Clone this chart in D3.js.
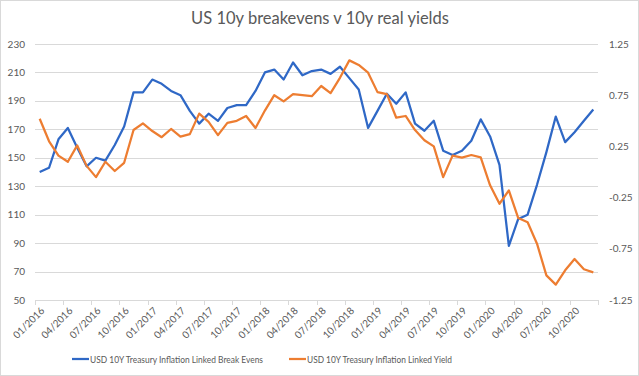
<!DOCTYPE html>
<html>
<head>
<meta charset="utf-8">
<script src="https://cdn.jsdelivr.net/npm/d3@7"></script>
<style>
  body { margin: 0; background: #fff; }
  text { font-family: Lato, "Open Sans", sans-serif; fill: #595959; }
</style>
</head>
<body>
<div id="chart"></div>
<script>
// Months, Jan 2016 .. Dec 2020
const months = [];
for (let yr = 2016; yr <= 2020; yr++) {
    for (let m = 1; m <= 12; m++) months.push(String(m).padStart(2, "0") + "/" + yr);
}

// USD 10Y breakevens (bp), left axis
const breakEvens = [
    140, 143, 163, 171, 157, 144, 150, 148, 159, 172, 196, 196,
    205, 202, 197, 194, 183, 174, 181, 176, 185, 187, 187, 197,
    210, 212, 205, 217, 208, 211, 212, 209, 214, 206, 198, 171,
    183, 195, 188, 196, 174, 169, 176, 155, 152, 155, 162, 177,
    165, 145, 88, 107, 110, 131, 154, 179, 161, 168, 176, 184
];

// USD 10Y real yield (%), right axis
const realYield = [
    0.52, 0.30, 0.16, 0.10, 0.26, 0.06, -0.05, 0.10, 0.01, 0.09, 0.41, 0.475,
    0.40, 0.34, 0.42, 0.345, 0.37, 0.57, 0.49, 0.36, 0.48, 0.50, 0.547, 0.43,
    0.60, 0.75, 0.69, 0.76, 0.75, 0.74, 0.84, 0.77, 0.92, 1.09, 1.045, 0.97,
    0.78, 0.76, 0.53, 0.547, 0.41, 0.31, 0.25, -0.05, 0.16, 0.14, 0.166, 0.143,
    -0.13, -0.31, -0.18, -0.45, -0.49, -0.70, -1.01, -1.10, -0.96, -0.85, -0.95, -0.98
];

const leftTicks = [50, 70, 90, 110, 130, 150, 170, 190, 210, 230];
const rightTicks = [-1.25, -0.75, -0.25, 0.25, 0.75, 1.25];
const seriesNames = ["USD 10Y Treasury Inflation Linked Break Evens", "USD 10Y Treasury Inflation Linked Yield"];
const colors = ["#2f68c6", "#ed7d31"];

const width = 639, height = 376;
const plot = { left: 35, right: 598, top: 44, bottom: 300 };

const svg = d3.select("#chart").append("svg")
    .attr("width", width)
    .attr("height", height);

// chart border
svg.append("rect")
    .attr("x", 0.5).attr("y", 0.5)
    .attr("width", width - 1).attr("height", height - 1)
    .attr("fill", "#fff")
    .attr("stroke", "#d9d9d9");

const x = d3.scaleBand()
    .domain(months)
    .range([plot.left, plot.right]);
const yL = d3.scaleLinear().domain([50, 230]).range([plot.bottom, plot.top]);
const yR = d3.scaleLinear().domain([-1.25, 1.25]).range([plot.bottom, plot.top]);
const cx = d => x(d) + x.bandwidth() / 2;

// gridlines
svg.append("g")
    .selectAll("line")
    .data(leftTicks)
    .join("line")
    .attr("x1", plot.left).attr("x2", plot.right)
    .attr("y1", d => Math.round(yL(d)) + 0.5)
    .attr("y2", d => Math.round(yL(d)) + 0.5)
    .attr("stroke", "#d9d9d9");

// left axis labels
svg.append("g")
    .selectAll("text")
    .data(leftTicks)
    .join("text")
    .attr("x", 25)
    .attr("y", d => yL(d))
    .attr("dy", "0.35em")
    .attr("text-anchor", "end")
    .style("font-size", "10px")
    .text(d => d);

// right axis labels
svg.append("g")
    .selectAll("text")
    .data(rightTicks)
    .join("text")
    .attr("x", 609)
    .attr("y", d => yR(d))
    .attr("dy", "0.35em")
    .attr("text-anchor", "start")
    .style("font-size", "10px")
    .text(d => d.toFixed(2));

// x ticks every quarter
const quarterMonths = months.filter((d, i) => i % 3 === 0);
const tickX = quarterMonths.map(d => x(d)).concat([plot.right]);
svg.append("g")
    .selectAll("line")
    .data(tickX)
    .join("line")
    .attr("x1", d => Math.round(d) + 0.5).attr("x2", d => Math.round(d) + 0.5)
    .attr("y1", plot.bottom).attr("y2", plot.bottom + 5)
    .attr("stroke", "#d9d9d9");

svg.append("g")
    .selectAll("text")
    .data(quarterMonths)
    .join("text")
    .attr("transform", d => `translate(${cx(d) + 3},${plot.bottom + 9}) rotate(-45)`)
    .attr("dy", "0.35em")
    .attr("text-anchor", "end")
    .style("font-size", "10px")
    .text(d => d);

// lines
const lineL = d3.line().x((d, i) => cx(months[i])).y(d => yL(d));
const lineR = d3.line().x((d, i) => cx(months[i])).y(d => yR(d));

svg.append("path")
    .datum(breakEvens)
    .attr("d", lineL)
    .attr("fill", "none")
    .attr("stroke", colors[0])
    .attr("stroke-width", 2.25)
    .attr("stroke-linejoin", "round");

svg.append("path")
    .datum(realYield)
    .attr("d", lineR)
    .attr("fill", "none")
    .attr("stroke", colors[1])
    .attr("stroke-width", 2.25)
    .attr("stroke-linejoin", "round");

// title
svg.append("text")
    .attr("x", 320)
    .attr("y", 24)
    .attr("text-anchor", "middle")
    .style("font-size", "16.5px")
    .text("US 10y breakevens v 10y real yields");

// legend
const legendX = [72, 289];
const legendW = [173, 145];
const legend = svg.append("g")
    .selectAll("g")
    .data(seriesNames)
    .join("g")
    .attr("transform", (d, i) => `translate(${legendX[i]},359)`);
legend.append("line")
    .attr("x1", 0).attr("x2", 17)
    .attr("stroke", (d, i) => colors[i])
    .attr("stroke-width", 2.25);
legend.append("text")
    .attr("x", 18)
    .attr("dy", "0.35em")
    .attr("textLength", (d, i) => legendW[i])
    .attr("lengthAdjust", "spacingAndGlyphs")
    .style("font-size", "10px")
    .text(d => d);
</script>
</body>
</html>
